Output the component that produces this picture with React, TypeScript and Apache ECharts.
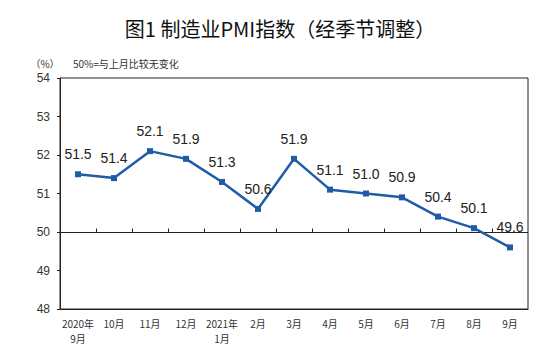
import React, { useEffect, useRef } from "react";
import * as echarts from "echarts";

const categories = [
  "2020年\n9月", "10月", "11月", "12月", "2021年\n1月", "2月", "3月",
  "4月", "5月", "6月", "7月", "8月", "9月",
];
const pmiValues = [51.5, 51.4, 52.1, 51.9, 51.3, 50.6, 51.9, 51.1, 51.0, 50.9, 50.4, 50.1, 49.6];
const baseLevel = 50;
const titleText = "图1 制造业PMI指数（经季节调整）";
const unitText = "（%）";
const noteText = "50%=与上月比较无变化";

const CJK = "'Noto Sans CJK SC', 'Noto Sans', sans-serif";

export default function App() {
  const ref = useRef<HTMLDivElement>(null);
  useEffect(() => {
    if (!ref.current) return;
    const chart = echarts.init(ref.current, null, { renderer: "svg" });
    const lastIdx = categories.length - 1;
    chart.setOption({
      animation: false,
      backgroundColor: "#ffffff",
      graphic: [
        {
          type: "text",
          x: 280,
          y: 28,
          style: {
            text: titleText,
            fontSize: 20,
            fontFamily: CJK,
            fontWeight: "normal",
            fill: "#111",
            textAlign: "center",
            textVerticalAlign: "middle",
          },
        },
        {
          type: "text",
          x: 45,
          y: 63,
          style: {
            text: unitText,
            fontSize: 10,
            fontFamily: CJK,
            fill: "#333",
            textAlign: "center",
            textVerticalAlign: "middle",
          },
        },
        {
          type: "text",
          x: 73,
          y: 63,
          style: {
            text: noteText,
            fontSize: 10,
            fontFamily: CJK,
            fill: "#333",
            textAlign: "left",
            textVerticalAlign: "middle",
          },
        },
      ],
      grid: {
        left: 60,
        top: 78,
        right: 11,
        bottom: 48,
        show: true,
        borderColor: "#222",
        borderWidth: 1,
        backgroundColor: "transparent",
      },
      xAxis: {
        type: "category",
        data: categories,
        position: "bottom",
        boundaryGap: true,
        axisLine: { show: true, lineStyle: { color: "#222", width: 1 } },
        axisTick: { show: false },
        axisLabel: {
          interval: 0,
          margin: 7,
          fontSize: 10,
          lineHeight: 15,
          color: "#333",
          fontFamily: CJK,
        },
      },
      yAxis: {
        type: "value",
        min: 48,
        max: 54,
        interval: 1,
        axisLine: { show: true, lineStyle: { color: "#222", width: 1 } },
        axisTick: { show: true, length: 3, lineStyle: { color: "#222" } },
        splitLine: { show: false },
        axisLabel: {
          fontSize: 12,
          margin: 10,
          color: "#333",
          fontFamily: "'Liberation Sans', Arial, sans-serif",
        },
      },
      series: [
        {
          type: "custom",
          silent: true,
          z: 1,
          data: categories.map((_, i) => [i, baseLevel]),
          renderItem: (params: any, api: any) => {
            const idx = api.value(0);
            const p = api.coord([idx, api.value(1)]);
            const bw = api.size([1, 0])[0];
            const y = Math.round(p[1]) + 0.5;
            const children: any[] = [
              {
                type: "line",
                shape: { x1: p[0] - bw / 2, y1: y, x2: p[0] + bw / 2, y2: y },
                style: { stroke: "#222", lineWidth: 1 },
              },
            ];
            if (idx < lastIdx) {
              const tx = Math.round(p[0] + bw / 2) + 0.5;
              children.push({
                type: "line",
                shape: { x1: tx, y1: y, x2: tx, y2: y - 4 },
                style: { stroke: "#222", lineWidth: 1 },
              });
            }
            return { type: "group", children };
          },
        },
        {
          type: "line",
          data: pmiValues,
          z: 3,
          symbol: "rect",
          symbolSize: 6,
          lineStyle: { color: "#1f5ca6", width: 2.5 },
          itemStyle: { color: "#1f5ca6" },
          label: {
            show: true,
            position: "top",
            distance: 10,
            fontSize: 14,
            color: "#222",
            fontFamily: "'Liberation Sans', Arial, sans-serif",
            formatter: (p: any) => Number(p.value).toFixed(1),
          },
        },
      ],
    });
    return () => chart.dispose();
  }, []);
  return <div ref={ref} style={{ width: 539, height: 357, margin: -8 }} />;
}
